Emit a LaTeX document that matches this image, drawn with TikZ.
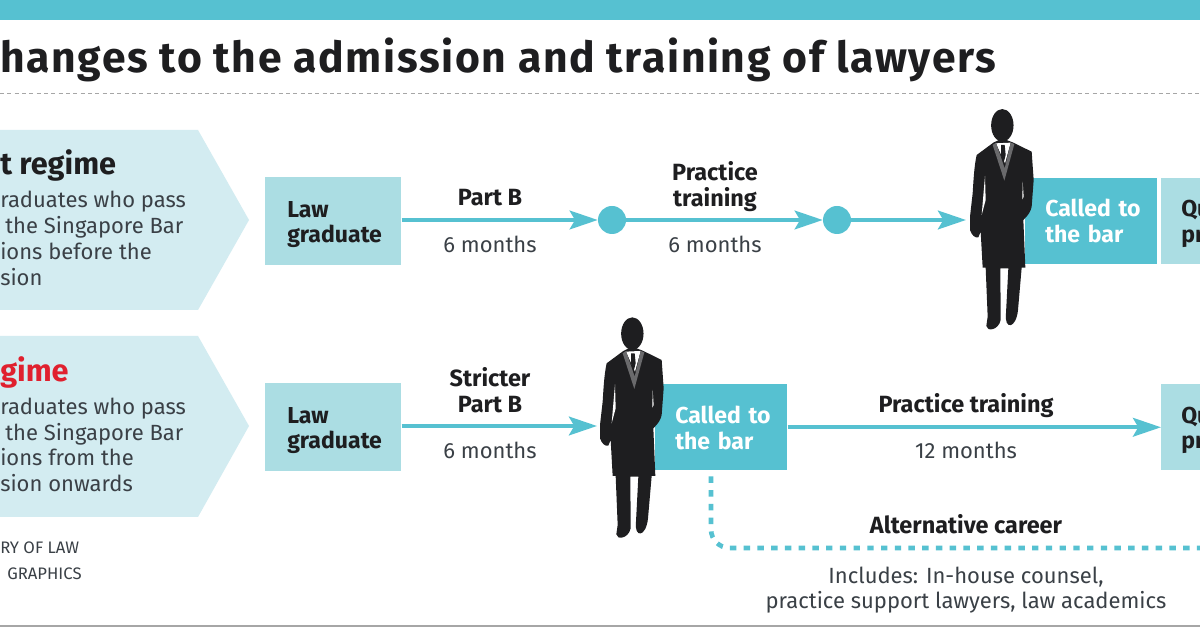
\documentclass[tikz,border=0pt]{standalone}
\usepackage{fontspec}
\setmainfont{Fira Sans}
\usetikzlibrary{arrows.meta}
\definecolor{teal}{HTML}{56C1D1}
\definecolor{palebox}{HTML}{ABDDE3}
\definecolor{palearrow}{HTML}{D3ECF1}
\definecolor{ink}{HTML}{1E1E20}
\definecolor{lapel}{HTML}{6A6A6C}
\definecolor{textgrey}{HTML}{3A4046}
\definecolor{alarm}{HTML}{E0202E}
\newcommand{\firststrut}{\rule{0pt}{16.5pt}}
\newcommand{\calledstrut}{\rule{0pt}{13.5pt}}
\tikzset{
  x=0.75pt,y=-0.75pt,
  flow/.style={draw=teal,line width=3pt,-{Stealth[length=21pt,width=14pt,inset=4pt]}},
  stepbox/.style={rectangle,fill=palebox,anchor=north west,inner xsep=16.5pt,inner ysep=0pt,font=\bfseries\fontsize{17.3}{19}\selectfont,text=ink,align=left},
  calledbox/.style={rectangle,fill=teal,anchor=north west,inner xsep=15pt,inner ysep=0pt,font=\bfseries\fontsize{17.3}{19.5}\selectfont,text=white,align=left},
  dot/.style={circle,fill=teal,minimum size=21pt,inner sep=0pt},
  steplabel/.style={font=\bfseries\fontsize{17.6}{19.5}\selectfont,text=ink,align=center,anchor=center},
  durlabel/.style={font=\fontsize{16.5}{19.5}\selectfont,text=textgrey,anchor=center},
  body/.style={font=\fontsize{16.5}{19.5}\selectfont,text=textgrey,anchor=base west,inner sep=0pt},
  regime/.style={font=\bfseries\fontsize{23}{26}\selectfont,anchor=base west,inner sep=0pt},
  credit/.style={font=\fontsize{12.5}{15}\selectfont,text=textgrey,anchor=base west,inner sep=0pt},
}
\newcommand{\lawyerfig}[2]{%
\begin{scope}[shift={(#1,#2)},x=0.25pt,y=-0.25pt]
  \fill[ink] (187,76) ellipse [x radius=8.4pt,y radius=12.2pt];
  \fill[ink] (160,128) -- (110,165) .. controls (102,200) and (100,250) .. (98,280) -- (90,350) -- (90,390)
    .. controls (95,405) and (105,415) .. (115,412) -- (122,395) -- (128,503) -- (137,503) -- (143,650)
    -- (139,678) .. controls (140,695) and (175,692) .. (182,660) -- (181,505) -- (205,505) -- (198,640)
    .. controls (192,690) and (228,688) .. (234,630) -- (245,503) -- (256,503) -- (250,360)
    .. controls (265,345) and (272,335) .. (275,320) -- (281,240) -- (275,155) -- (220,128) -- (187,115) -- cycle;
  \fill[white] (168,130) -- (212,128) -- (195,190) -- cycle;
  \fill[ink] (183,135) -- (194,135) -- (197,165) -- (190,192) -- (183,165) -- cycle;
  \fill[lapel] (158,135) -- (168,128) -- (194,205) -- (212,128) -- (223,132) -- (193,242) -- cycle;
  \fill[white] (135,228) -- (137,300) -- (125,345) -- cycle;
  \fill[white] (248,245) -- (251,290) -- (247,298) -- cycle;
\end{scope}}
\begin{document}
\begin{tikzpicture}
\useasboundingbox (0,0) rectangle (1200,630);
\clip (0,0) rectangle (1200,630);
\fill[white] (0,0) rectangle (1200,630);
\fill[teal] (0,0) rectangle (1200,20);
\node[anchor=base west,inner sep=0pt,font=\bfseries\fontsize{32}{36}\selectfont\addfontfeatures{LetterSpace=3.9},text=ink] (title) at (0,73) {hanges to the admission and training of lawyers};
\draw[gray!70,line width=0.75pt,dash pattern=on 3pt off 2.5pt] (0,94) -- (1200,94);
\draw[gray!70,line width=1pt] (0,626) -- (1200,626);
% pentagons
\fill[palearrow] (0,130) -- (198,130) -- (249,220) -- (198,310) -- (0,310) -- cycle;
\fill[palearrow] (0,336) -- (198,336) -- (249,426) -- (198,517) -- (0,517) -- cycle;
\node[regime,text=ink] (r1) at (0,175) {t regime};
\node[body] (a1) at (0,208) {raduates who pass};
\node[body] (a2) at (5,234) {the Singapore Bar};
\node[body] (a3) at (0,260) {ions before the};
\node[body] (a4) at (0,286) {sion};
\node[regime,text=alarm] (r2) at (0,382) {gime};
\node[body] (b1) at (0,415) {raduates who pass};
\node[body] (b2) at (5,441) {the Singapore Bar};
\node[body] (b3) at (0,466) {ions from the};
\node[body] (b4) at (0,492) {sion onwards};
\node[credit] (s1) at (0,554) {RY OF LAW};
\node[credit] (s2) at (7,580) {GRAPHICS};
% row 1
\node[stepbox,minimum width=102pt,minimum height=66pt,text width=69pt] (law1) at (265,177) {\firststrut Law\\graduate};
\node[dot] (c1) at (612,220) {};
\node[dot] (c2) at (837,220) {};
\coordinate (end1) at (966,220);
\draw[flow] (law1.east |- c1) -- (c1.west);
\draw[flow] (c1.east) -- (c2.west);
\draw[flow] (c2.east) -- (end1);
\node[steplabel] (l1) at (490,198) {Part B};
\node[durlabel] (d1) at (490,244) {6 months};
\node[steplabel] (l2) at (715,187) {Practice\\training};
\node[durlabel] (d2) at (715,244) {6 months};
\node[calledbox,minimum width=99pt,minimum height=64pt,text width=69pt] (bar1) at (1025,178) {\calledstrut\mbox{Called to}\\the bar};
\node[stepbox,minimum height=64pt,text width=25pt,inner xsep=15pt] (q1) at (1161,178) {\firststrut Qu\\pr};
\lawyerfig{940}{100}
% row 2
\node[stepbox,minimum width=102pt,minimum height=66pt,text width=69pt] (law2) at (265,383) {\firststrut Law\\graduate};
\coordinate (end2) at (597,426);
\draw[flow] (law2.east |- end2) -- (end2);
\node[steplabel] (l3) at (490,390) {Stricter\\Part B};
\node[durlabel] (d3) at (490,450) {6 months};
\node[calledbox,minimum width=99pt,minimum height=64.5pt,text width=69pt] (bar2) at (655,384) {\calledstrut\mbox{Called to}\\the bar};
\node[stepbox,minimum height=64.5pt,text width=25pt,inner xsep=15pt] (q2) at (1161,384) {\firststrut Qu\\pr};
\draw[flow] (bar2.east) -- (q2.west);
\lawyerfig{570}{308.3}
\node[steplabel] (l4) at (966,405.5) {Practice training};
\node[durlabel] (d4) at (966,450) {12 months};
\coordinate (alt) at (1200,548);
\draw[draw=teal,line width=3.5pt,dash pattern=on 4.8pt off 5.5pt,rounded corners=14pt] (711,476.5) -- (711,548) -- (alt);
\node[steplabel] (l5) at (966,524) {Alternative career};
\node[font=\fontsize{16.5}{19}\selectfont,text=textgrey,align=center] (inc) at (966,590) {Includes: In-house counsel,\\practice support lawyers, law academics};
\end{tikzpicture}
\end{document}
